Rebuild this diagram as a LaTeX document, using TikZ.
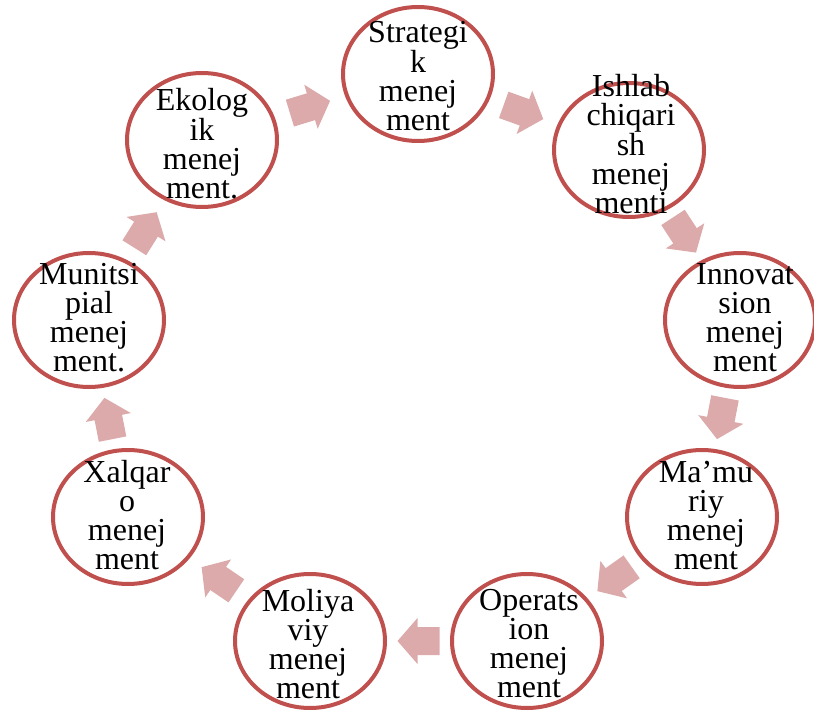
\documentclass[tikz,border=0pt]{standalone}
\usepackage{fontspec}
\setmainfont{Liberation Serif}
\usetikzlibrary{calc,shapes.geometric}
\definecolor{ringred}{HTML}{C0504D}
\definecolor{arrowpink}{RGB}{220,170,170}
\pgfdeclarelayer{background}
\pgfsetlayers{background,main}
\begin{document}
\begin{tikzpicture}[x=1pt,y=-1pt,
  ring/.style={ellipse, draw=ringred, line width=4pt, fill=white,
    minimum width=150pt, minimum height=134pt, inner sep=0pt},
  ringtext/.style={align=center, font=\fontsize{32}{29}\selectfont,
    inner sep=0pt, text=black},
  blockarrow/.style={fill=arrowpink}]
\useasboundingbox (0,0) rectangle (814,711);

% rings
\node[ring] (S)  at (418,74)  {};
\node[ring] (I)  at (629,150) {};
\node[ring] (In) at (740,320) {};
\node[ring] (M)  at (702,517) {};
\node[ring] (O)  at (527,641) {};
\node[ring] (Mo) at (310,641) {};
\node[ring] (X)  at (128,517) {};
\node[ring] (Mu) at (89,320)  {};
\node[ring] (E)  at (202,140) {};

% texts
\node[ringtext] (S-t)  at (418,76)  {Strategi\\k\\menej\\ment};
\node[ringtext] (I-t)  at (631,144) {Ishlab\\chiqari\\sh\\menej\\menti};
\node[ringtext] (In-t) at (745,318) {Innovat\\sion\\menej\\ment};
\node[ringtext] (M-t)  at (706,516) {Ma’mu\\riy\\menej\\ment};
\node[ringtext] (O-t)  at (529,644) {Operats\\ion\\menej\\ment};
\node[ringtext] (Mo-t) at (308,644) {Moliya\\viy\\menej\\ment};
\node[ringtext] (X-t)  at (127,515) {Xalqar\\o\\menej\\ment};
\node[ringtext] (Mu-t) at (89,318)  {Munitsi\\pial\\menej\\ment.};
\node[ringtext] (E-t)  at (202,144) {Ekolog\\ik\\menej\\ment.};

% block arrows between consecutive rings
\begin{pgfonlayer}{background}
\foreach \a/\b in {E/S,S/I,I/In,In/M,M/O,O/Mo,Mo/X,X/Mu,Mu/E} {
  \pgfmathanglebetweenpoints{\pgfpointanchor{\a}{center}}{\pgfpointanchor{\b}{center}}
  \let\arrang\pgfmathresult
  \begin{scope}[shift={($(\a)!0.5!(\b)$)}, rotate=\arrang]
    \fill[blockarrow] (-21,-14) -- (1,-14) -- (1,-23) -- (21,0)
      -- (1,23) -- (1,14) -- (-21,14) -- cycle;
  \end{scope}
}
\end{pgfonlayer}
\end{tikzpicture}
\end{document}
